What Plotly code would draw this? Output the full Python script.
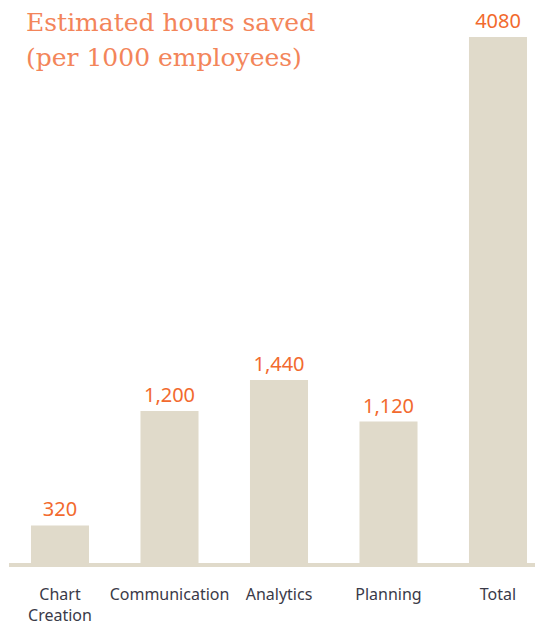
import plotly.graph_objects as go

categories = ["Chart<br>Creation", "Communication", "Analytics", "Planning", "Total"]
values = [320, 1200, 1440, 1120, 4080]
value_labels = ["320", "1,200", "1,440", "1,120", "4080"]
title_lines = ["Estimated hours saved", "(per 1000 employees)"]

# page body adds an 8px offset; figure sized to fit the window
OFF = 8
W, H = 543 - OFF, 626 - OFF
ml, mr, mt, mb = 9 - OFF, 0, 0, H - (567 - OFF)
px_per_unit = 109.5
x0 = 60 - OFF
xr = [(ml - x0) / px_per_unit, 4 + (W - (498 - OFF)) / px_per_unit]
plot_h = H - mt - mb
ymax = plot_h / 530 * 4080

bar_color = "#E0DACA"
fig = go.Figure(go.Bar(
    x=list(range(len(categories))), y=values,
    marker=dict(color=bar_color, line=dict(width=0)),
    width=0.53,
    text=value_labels, textposition="outside",
    textfont=dict(color="#F26A2E", size=20, family="Noto Sans"),
    cliponaxis=False, hoverinfo="skip",
))
fig.add_shape(type="line", xref="paper", yref="y", x0=0, x1=1, y0=0, y1=0,
              line=dict(color=bar_color, width=8))
for line, yc in zip(title_lines, [22 - OFF, 57 - OFF]):
    fig.add_annotation(text=line, xref="paper", yref="paper",
                       x=(24 - OFF - ml) / (W - ml - mr), xanchor="left",
                       y=1 - (yc - mt) / plot_h, yanchor="middle",
                       showarrow=False,
                       font=dict(family="DejaVu Serif", size=25, color="#F3855A"))
fig.update_layout(
    width=W, height=H, margin=dict(l=ml, r=mr, t=mt, b=mb, autoexpand=False),
    plot_bgcolor="white", paper_bgcolor="white", showlegend=False,
    xaxis=dict(range=xr, tickmode="array", tickvals=list(range(len(categories))),
               ticktext=categories, showgrid=False, zeroline=False, showline=False,
               automargin=False,
               ticks="outside", ticklen=13, tickcolor="rgba(0,0,0,0)",
               tickfont=dict(family="Noto Sans", size=16, color="#3A3A48")),
    yaxis=dict(range=[0, ymax], visible=False, automargin=False),
)
fig.write_html("out.html")
